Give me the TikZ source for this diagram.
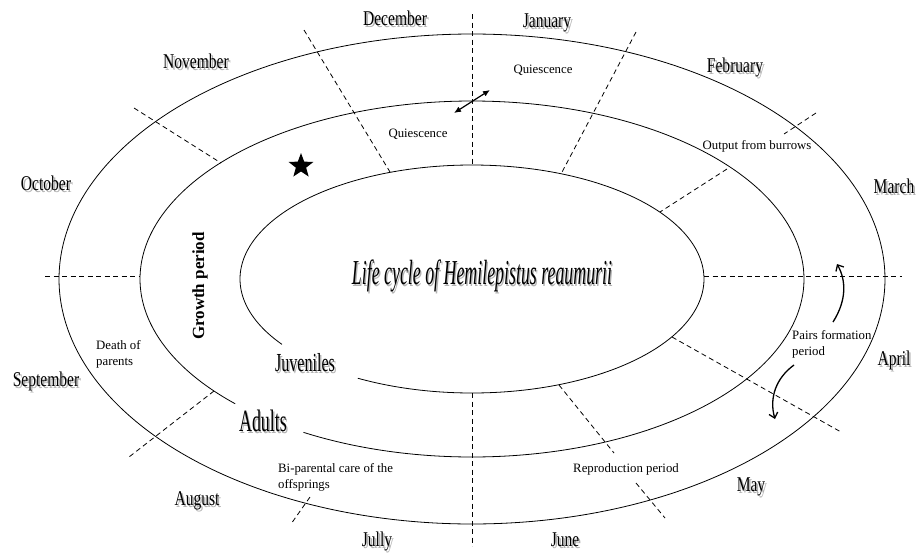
\documentclass[tikz,border=0pt]{standalone}
\usepackage{fontspec}
\setmainfont{Liberation Serif}
\usepackage{graphicx}
\usetikzlibrary{arrows.meta,shapes.geometric}
\newcommand{\shd}[1]{\rlap{\hspace*{2.5pt}\raisebox{-2.5pt}{\textcolor{black!30}{#1}}}#1}
\newcommand{\mon}[1]{\scalebox{0.74}[1]{\shd{#1}}}
\tikzset{
  ell/.style={line width=0.8pt},
  dsh/.style={line width=0.8pt, dash pattern=on 5pt off 3.5pt},
  month/.style={anchor=base, inner sep=0pt, font=\fontsize{21}{21}\selectfont},
  small/.style={inner sep=0pt, font=\fontsize{12.8}{16}\selectfont},
  dbl/.style={line width=1.2pt, {Latex[length=7pt,width=6pt]}-{Latex[length=7pt,width=6pt]}},
  curv/.style={line width=1.3pt, -{Straight Barb[length=5pt,width=9pt]}}
}
\begin{document}
\begin{tikzpicture}[x=1pt,y=-1pt]
\useasboundingbox (0,0) rectangle (919,555);
% ellipses
\draw[ell] plot[domain=0:360,samples=240,smooth] ({472+413*cos(\x)},{279+245*sin(\x)});
\draw[ell] plot[domain=135.5:480.5,samples=220,smooth] ({472+332*cos(\x)},{279+178*sin(\x)});
\draw[ell] plot[domain=145:479.5,samples=220,smooth] ({472+232*cos(\x)},{279+114*sin(\x)});
% dashed dividers
\draw[dsh] (472,14) -- (472,165);
\draw[dsh] (472,393) -- (472,546);
\draw[dsh] (45,276) -- (140,276);
\draw[dsh] (704,276) -- (902,276);
\draw[dsh] (304,30) -- (390,172);
\draw[dsh] (134,108) -- (221,163);
\draw[dsh] (636,32) -- (561,174);
\draw[dsh] (816,113) -- (784,134);
\draw[dsh] (727,169) -- (660,212);
\draw[dsh] (672,337) -- (841,432);
\draw[dsh] (559,385) -- (614,453);
\draw[dsh] (636,483) -- (665,518);
\draw[dsh] (214,391) -- (129,457);
\draw[dsh] (310,497) -- (291,524);
% months
\node[month] (dec) at (395,25) {\mon{December}};
\node[month] (jan) at (547,27) {\mon{January}};
\node[month] (nov) at (196,68) {\mon{November}};
\node[month] (feb) at (735,72) {\mon{February}};
\node[month] (oct) at (46,190) {\mon{October}};
\node[month] (mar) at (894,193) {\mon{March}};
\node[month] (sep) at (46,386) {\mon{September}};
\node[month] (apr) at (894,365) {\mon{April}};
\node[month] (aug) at (197,505) {\mon{August}};
\node[month] (may) at (751,491) {\mon{May}};
\node[month] (jul) at (377,546) {\mon{Jully}};
\node[month] (jun) at (565,546) {\mon{June}};
% title and stages
\node[anchor=base, inner sep=0pt, font=\itshape\fontsize{35}{35}\selectfont] (title) at (482,284) {\scalebox{0.51}[1]{\shd{Life cycle of Hemilepistus reaumurii}}};
\node[anchor=base, inner sep=0pt, font=\fontsize{26}{26}\selectfont] (juv) at (305,371) {\scalebox{0.62}[1]{\shd{Juveniles}}};
\node[anchor=base, inner sep=0pt, font=\fontsize{31}{31}\selectfont] (adu) at (263,431) {\scalebox{0.58}[1]{\shd{Adults}}};
% small texts
\node[small, anchor=base] (q1) at (543,73) {Quiescence};
\node[small, anchor=base] (q2) at (418,137) {Quiescence};
\node[small, anchor=base] (out) at (757,149) {Output from burrows};
\node[small, anchor=north west, align=left] (pairs) at (792,330.3) {Pairs formation\\period};
\node[small, anchor=north west, align=left] (death) at (96,340.3) {Death of\\parents};
\node[small, anchor=north west, align=left] (bip) at (278,463.3) {Bi-parental care of the\\offsprings};
\node[small, anchor=base] (rep) at (626,472) {Reproduction period};
\node[inner sep=0pt, rotate=90, font=\bfseries\fontsize{17}{17}\selectfont] (grow) at (200,286) {Growth period};
% star
\node[star, star points=5, star point ratio=2.4, fill=black, minimum size=26pt, inner sep=0pt] (star) at (301,166) {};
% arrows
\coordinate (qa) at (454,113);
\coordinate (qb) at (490,90);
\draw[dbl] (qa) -- (qb);
\coordinate (pa1) at (833,322);
\coordinate (pa2) at (837,264);
\draw[curv] (pa1) .. controls (847,300) and (846,280) .. (pa2);
\coordinate (pb1) at (794,365);
\coordinate (pb2) at (775,419);
\draw[curv] (pb1) .. controls (776,378) and (769,398) .. (pb2);
\end{tikzpicture}
\end{document}
